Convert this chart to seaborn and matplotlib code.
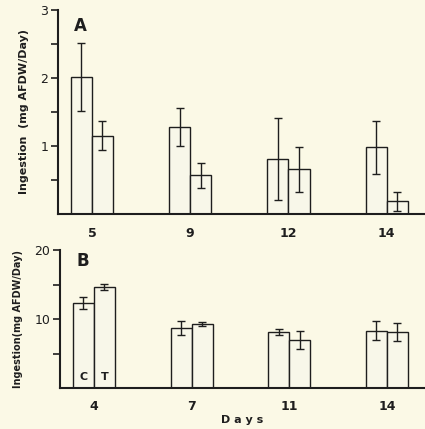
import matplotlib
matplotlib.use("Agg")
import matplotlib.pyplot as plt
import seaborn as sns
import pandas as pd

# Panel A: ingestion (mg AFDW/day), control vs treatment
days_a = ["5", "9", "12", "14"]
ctrl_a = [2.01, 1.28, 0.81, 0.98]
ctrl_a_err = [0.50, 0.28, 0.60, 0.39]
trt_a = [1.15, 0.57, 0.66, 0.19]
trt_a_err = [0.21, 0.18, 0.33, 0.14]

# Panel B
days_b = ["4", "7", "11", "14"]
ctrl_b = [12.3, 8.7, 8.1, 8.3]
ctrl_b_err = [0.9, 1.0, 0.4, 1.4]
trt_b = [14.6, 9.3, 7.0, 8.1]
trt_b_err = [0.45, 0.3, 1.3, 1.3]

bg = "#fbf9e6"
ink = "#1e1e1e"

sns.set_style("ticks")
plt.rcParams["font.family"] = ["DejaVu Sans"]

fig = plt.figure(figsize=(4.25, 4.29), dpi=100, facecolor=bg)
ax_a = fig.add_axes([0.136, 0.501, 0.864, 0.476])
ax_b = fig.add_axes([0.141, 0.0956, 0.859, 0.3214])


def panel(ax, days, c, ce, t, te, ylim, major, minor, ylabel, label, ylab_size):
    df = pd.DataFrame({
        "day": days * 2,
        "val": c + t,
        "grp": ["C"] * len(days) + ["T"] * len(days),
    })
    ax.set_facecolor(bg)
    sns.barplot(data=df, x="day", y="val", hue="grp", order=days,
                palette=[bg, bg], edgecolor=ink, linewidth=1.0,
                width=0.43, gap=0, legend=False, ax=ax)
    for cont, err in zip(ax.containers, [ce, te]):
        xs = [p.get_x() + p.get_width() / 2 for p in cont.patches]
        ys = [p.get_height() for p in cont.patches]
        ax.errorbar(xs, ys, yerr=err, fmt="none", ecolor=ink,
                    elinewidth=1.0, capsize=3, capthick=1.0)
    ax.set_xlim(-0.347, 3.39)
    ax.set_ylim(*ylim)
    ax.set_yticks(major)
    ax.set_yticklabels([str(m) for m in major], fontsize=9, color=ink)
    ax.set_yticks(minor, minor=True)
    ax.tick_params(axis="y", which="both", direction="out", length=5,
                   width=1.2, color=ink, pad=2)
    ax.tick_params(axis="x", length=0, pad=9, labelsize=9, labelcolor=ink)
    for lab in ax.get_xticklabels():
        lab.set_fontweight("bold")
    ax.set_xlabel("")
    ax.set_ylabel(ylabel, fontsize=ylab_size, fontweight="bold", color=ink,
                  labelpad=8)
    sns.despine(ax=ax)
    ax.spines["left"].set_linewidth(1.5)
    ax.spines["bottom"].set_linewidth(1.5)
    ax.spines["left"].set_color(ink)
    ax.spines["bottom"].set_color(ink)
    ax.text(0.045, 0.92, label, transform=ax.transAxes, fontsize=12,
            fontweight="bold", color=ink, ha="left", va="center")


panel(ax_a, days_a, ctrl_a, ctrl_a_err, trt_a, trt_a_err, (0, 3),
      [1, 2, 3], [0.5, 1.5, 2.5], "Ingestion  (mg AFDW/Day)", "A", 8)
panel(ax_b, days_b, ctrl_b, ctrl_b_err, trt_b, trt_b_err, (0, 20),
      [10, 20], [5, 15], "Ingestion(mg AFDW/Day)", "B", 7)

# C / T labels inside the first pair of bars in panel B
c_bar = ax_b.containers[0].patches[0]
t_bar = ax_b.containers[1].patches[0]
ax_b.text(c_bar.get_x() + c_bar.get_width() / 2, 1.2, "C", ha="center",
          fontsize=8, fontweight="bold", color=ink)
ax_b.text(t_bar.get_x() + t_bar.get_width() / 2, 1.2, "T", ha="center",
          fontsize=8, fontweight="bold", color=ink)

ax_b.set_xlabel("D a y s", fontsize=8, fontweight="bold", color=ink,
                labelpad=1)

fig.savefig("out.png", dpi=100, facecolor=bg)
